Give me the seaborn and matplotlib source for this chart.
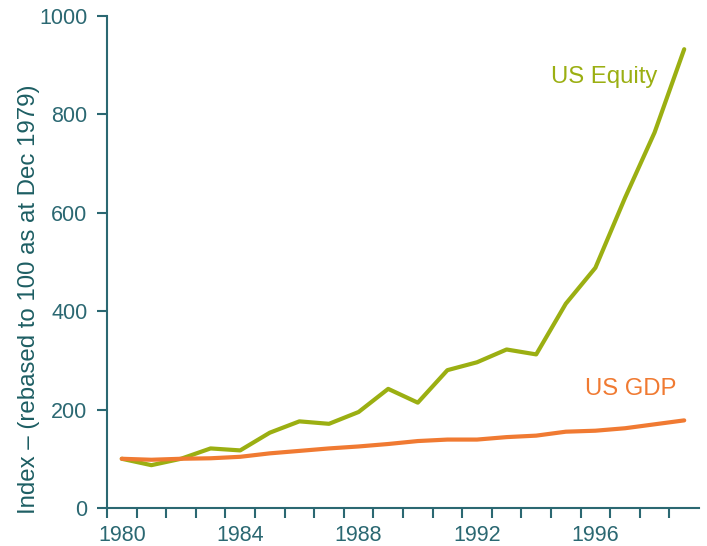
import numpy as np
import pandas as pd
import matplotlib
matplotlib.use("Agg")
import matplotlib.pyplot as plt
import seaborn as sns

years = list(range(1980, 2000))
equity = [100, 87, 100, 121, 117, 153, 176, 171, 195, 242, 214, 280, 296, 322, 312, 415, 488, 630, 763, 932]
gdp = [100, 98, 100, 101, 104, 111, 116, 121, 125, 130, 136, 139, 139, 144, 147, 155, 157, 162, 170, 178]
tick_labels = ["1980", "1984", "1988", "1992", "1996"]

teal = "#2B6872"
label_teal = "#1D5E63"
c_eq = "#9BAF12"
c_gdp = "#F07A32"

df = pd.DataFrame({"year": years * 2,
                   "value": equity + gdp,
                   "series": ["US Equity"] * len(years) + ["US GDP"] * len(years)})

sns.set_style("white")
plt.rcParams["font.family"] = ["Liberation Sans", "DejaVu Sans"]

fig = plt.figure(figsize=(7.07, 5.46), dpi=100)
ax = fig.add_axes([0.1513, 0.0696, 0.8374, 0.9016])

sns.lineplot(data=df, x="year", y="value", hue="series",
             palette={"US Equity": c_eq, "US GDP": c_gdp},
             linewidth=3.0, legend=False, ax=ax)

ax.set_xlim(1979.5, 1999.5)
ax.set_ylim(0, 1000)
ax.set_xticks([int(t) for t in tick_labels])
ax.set_xticklabels(tick_labels)
ax.set_xticks(np.arange(1979.5, 1999.0, 1.0), minor=True)
ax.set_yticks([0, 200, 400, 600, 800, 1000])
ax.tick_params(axis="x", which="major", length=0, pad=12, labelsize=15.5, labelcolor=teal)
ax.tick_params(axis="x", which="minor", length=7, width=1.5, color=teal, direction="out", bottom=True)
ax.tick_params(axis="y", which="major", length=7, width=1.5, color=teal, direction="out", left=True,
               labelsize=15.5, labelcolor=teal, pad=7)

for s in ["top", "right"]:
    ax.spines[s].set_visible(False)
for s in ["left", "bottom"]:
    ax.spines[s].set_color(teal)
    ax.spines[s].set_linewidth(1.5)

ax.set_xlabel("")
ax.set_ylabel("")
fig.text(29 / 707, 1 - 299 / 546, "Index – (rebased to 100 as at Dec 1979)", color=label_teal,
         fontsize=17.3, rotation=90, ha="center", va="center")

ax.text(1996.3, 876, "US Equity", color=c_eq, fontsize=17.2, ha="center", va="center")
ax.text(1997.2, 242, "US GDP", color=c_gdp, fontsize=17.2, ha="center", va="center")

fig.savefig("out.png", dpi=100)
